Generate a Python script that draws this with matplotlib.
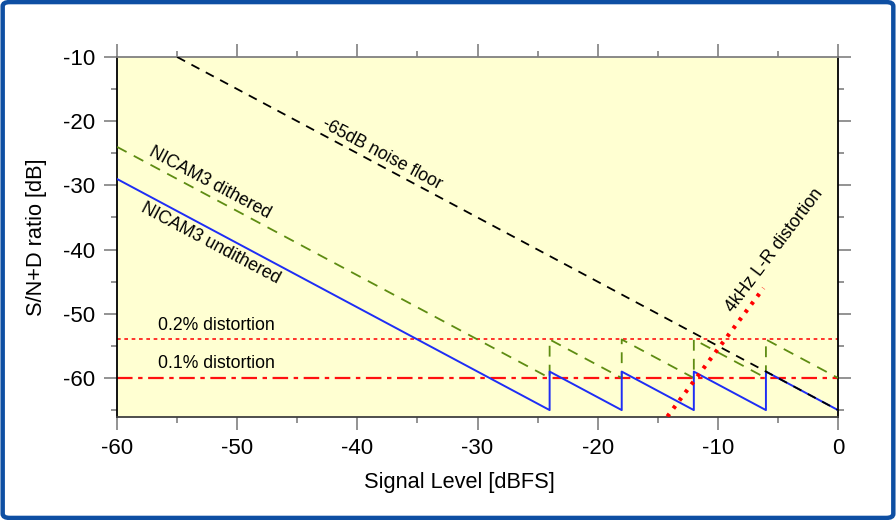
import matplotlib
matplotlib.use("Agg")
import matplotlib.pyplot as plt
from matplotlib.patches import FancyBboxPatch
from matplotlib.ticker import MultipleLocator

plt.rcParams['font.family'] = ['Liberation Sans', 'DejaVu Sans']

# ---- data ----
noise_x = [-55, 0]
noise_y = [-10, -65]
dith_x = [-60, -24, -24, -18, -18, -12, -12, -6, -6, 0]
dith_y = [-24, -60, -54, -60, -54, -60, -54, -60, -54, -60]
undith_x = [-60, -24, -24, -18, -18, -12, -12, -6, -6, 0]
undith_y = [-29, -65, -59, -65, -59, -65, -59, -65, -59, -65]
lr_x = [-14.2, -6.2]
lr_y = [-66, -46]
dist02 = -54
dist01 = -60
x_ticks = [-60, -50, -40, -30, -20, -10, 0]
y_ticks = [-10, -20, -30, -40, -50, -60]

fig = plt.figure(figsize=(8.96, 5.2), dpi=100)
fig.patch.set_facecolor('white')
border = FancyBboxPatch((0.003, 0.004), 0.994, 0.992, boxstyle="round,pad=0,rounding_size=0.008",
                        transform=fig.transFigure, facecolor='none', edgecolor='#0E4FA3', linewidth=3.2,
                        zorder=10)
fig.patches.append(border)

ax = fig.add_axes([0.1306, 0.199, 0.8047, 0.6914])
ax.set_facecolor('#FFFFD2')
ax.set_xlim(-60, 0)
ax.set_ylim(-66, -10)

ax.axhline(dist02, color='#FF1010', lw=1.2, linestyle=(0, (2.2, 2.2)), zorder=2)
ax.axhline(dist01, color='#FF1010', lw=1.6, linestyle=(0, (7, 2.5, 2, 2.5)), zorder=2)
ax.plot(dith_x, dith_y, color='#5E8C12', lw=1.3, linestyle=(0, (6, 4.5)), zorder=3)
ax.plot(undith_x, undith_y, color='#1E2DF5', lw=1.4, zorder=4)
ax.plot(noise_x, noise_y, color='black', lw=1.3, linestyle=(0, (5, 4)), zorder=5)
ax.plot(lr_x, lr_y, color='red', lw=3.0, linestyle=(0, (0.8, 1.6)), zorder=6)

tk = dict(fontsize=12.7, color='black')
ax.text(-38.0, -25.1, '-65dB noise floor', rotation=-28, ha='center', va='center', **tk)
ax.text(-52.3, -29.6, 'NICAM3 dithered', rotation=-28, ha='center', va='center', **tk)
ax.text(-52.2, -39.1, 'NICAM3 undithered', rotation=-28, ha='center', va='center', **tk)
ax.text(-5.26, -40.1, '4kHz L-R distortion', rotation=53, ha='center', va='center', **tk)
ax.text(-56.6, -51.8, '0.2% distortion', ha='left', va='center', **tk)
ax.text(-56.6, -57.8, '0.1% distortion', ha='left', va='center', **tk)

ax.set_xticks(x_ticks)
ax.set_xticklabels([str(v) for v in x_ticks])
ax.set_yticks(y_ticks)
ax.set_yticklabels([str(v) for v in y_ticks])
ax.xaxis.set_minor_locator(MultipleLocator(5))
ax.yaxis.set_minor_locator(MultipleLocator(5))
ax.tick_params(which='both', direction='out', top=True, right=True, color='#808080', width=1.2,
               labelsize=16)
ax.tick_params(which='major', length=9.5, pad=6)
ax.tick_params(which='minor', length=4.5)

ax.spines['left'].set_color('black')
ax.spines['right'].set_color('black')
ax.spines['bottom'].set_color('#404040')
ax.spines['top'].set_color('#808080')
for s in ax.spines.values():
    s.set_linewidth(1.3)

ax.set_xlabel('Signal Level [dBFS]', fontsize=15.7, labelpad=8)
ax.xaxis.set_label_coords(0.475, -0.155)
ax.set_ylabel('S/N+D ratio [dB]', fontsize=15.7, labelpad=12)

fig.savefig('out.png', dpi=100)
